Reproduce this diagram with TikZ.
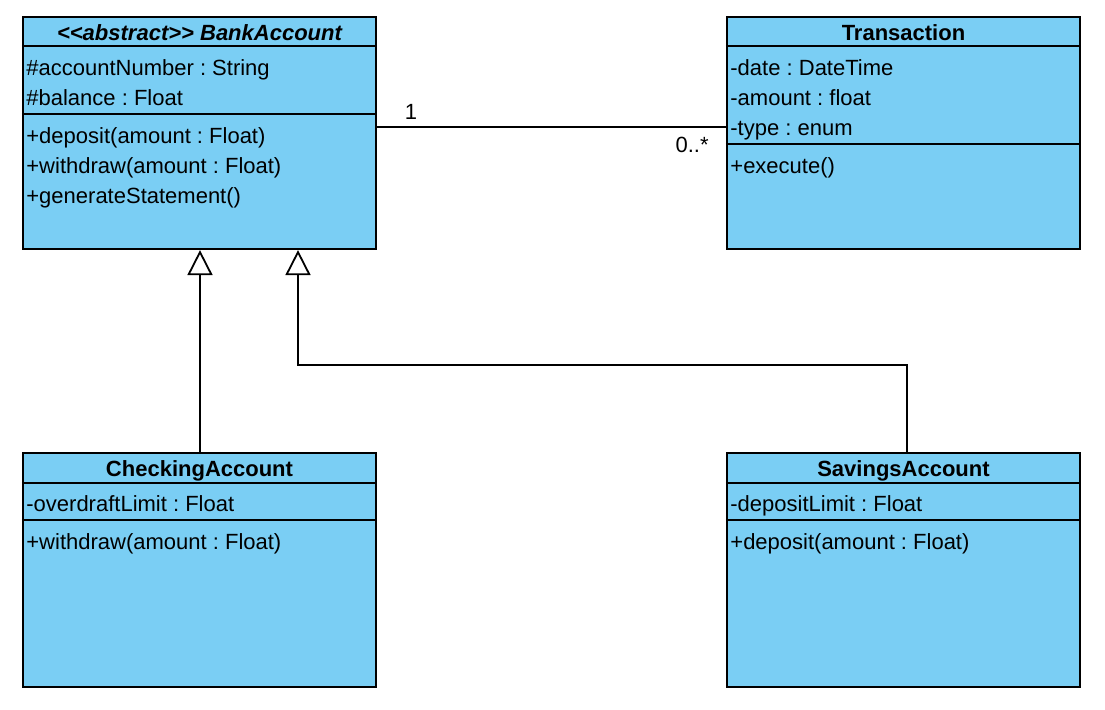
\documentclass[tikz,border=0pt]{standalone}
\usepackage{fontspec}
\setmainfont{Liberation Sans}
\usetikzlibrary{arrows.meta}

\definecolor{classblue}{RGB}{122,206,244}
\frenchspacing

\begin{document}
\begin{tikzpicture}[x=0.5pt,y=-0.5pt,
        classbox/.style={draw,line width=1.1pt,fill=classblue,rectangle,inner sep=0pt,minimum width=176.5pt},
        classname/.style={font=\fontsize{11pt}{13pt}\selectfont\bfseries,anchor=base,inner sep=0pt},
        member/.style={font=\fontsize{11pt}{13pt}\selectfont,anchor=base west,inner sep=0pt},
        mult/.style={font=\fontsize{11pt}{13pt}\selectfont,inner sep=0pt},
        sepline/.style={line width=1.1pt},
        inherit/.style={line width=1pt,-{Triangle[length=12.5pt,width=12.5pt,fill=white,line width=0.9pt]}},
        assoc/.style={line width=0.9pt}]
        \useasboundingbox (0,0) rectangle (1105,709) ;

        % BankAccount
        \node[classbox,minimum height=116pt] (bank) at (199.5,133) {} ;
        \node[classname] (bankname) at (199.5,40) {\itshape <\kern0pt<abstract>\kern0pt> BankAccount} ;
        \draw[sepline] (bank.north west) ++(0,30) -- ++(353,0) ;
        \node[member] (accnum) at (26,75) {\#accountNumber : String} ;
        \node[member] (balance) at (26,105) {\#balance : Float} ;
        \draw[sepline] (bank.north west) ++(0,98) -- ++(353,0) ;
        \node[member] (deposit) at (26,143) {+deposit(amount : Float)} ;
        \node[member] (withdraw) at (26,173) {+withdraw(amount : Float)} ;
        \node[member] (statement) at (26,203) {+generateStatement()} ;

        % Transaction
        \node[classbox,minimum height=116pt] (trans) at (903.5,133) {} ;
        \node[classname] (transname) at (903.5,40) {Transaction} ;
        \draw[sepline] (trans.north west) ++(0,30) -- ++(353,0) ;
        \node[member] (date) at (730,75) {-date : DateTime} ;
        \node[member] (amount) at (730,105) {-amount : float} ;
        \node[member] (type) at (730,135) {-type : enum} ;
        \draw[sepline] (trans.north west) ++(0,128) -- ++(353,0) ;
        \node[member] (execute) at (730,173) {+execute()} ;

        % CheckingAccount
        \node[classbox,minimum height=117pt] (check) at (199.5,570) {} ;
        \node[classname] (checkname) at (199.5,476) {CheckingAccount} ;
        \draw[sepline] (check.north west) ++(0,31) -- ++(353,0) ;
        \node[member] (overdraft) at (26,511) {-overdraftLimit : Float} ;
        \draw[sepline] (check.north west) ++(0,68) -- ++(353,0) ;
        \node[member] (checkwd) at (26,549) {+withdraw(amount : Float)} ;

        % SavingsAccount
        \node[classbox,minimum height=117pt] (save) at (903.5,570) {} ;
        \node[classname] (savename) at (903.5,476) {SavingsAccount} ;
        \draw[sepline] (save.north west) ++(0,31) -- ++(353,0) ;
        \node[member] (deplimit) at (730,511) {-depositLimit : Float} ;
        \draw[sepline] (save.north west) ++(0,68) -- ++(353,0) ;
        \node[member] (savedep) at (730,549) {+deposit(amount : Float)} ;

        % association
        \draw[assoc] ([yshift=3pt]bank.east) -- ([yshift=3pt]trans.west) ;
        \node[mult,anchor=base] (one) at (411,119) {1} ;
        \node[mult,anchor=base east] (many) at (709,152) {0..*} ;

        % generalisation
        \draw[inherit] ([xshift=0.25pt]check.north) -- ([xshift=0.25pt]check.north |- bank.south) ;
        \coordinate (bend) at (298,365) ;
        \draw[inherit] ([xshift=1.75pt]save.north) |- (bend) -- (bend |- bank.south) ;
\end{tikzpicture}
\end{document}
